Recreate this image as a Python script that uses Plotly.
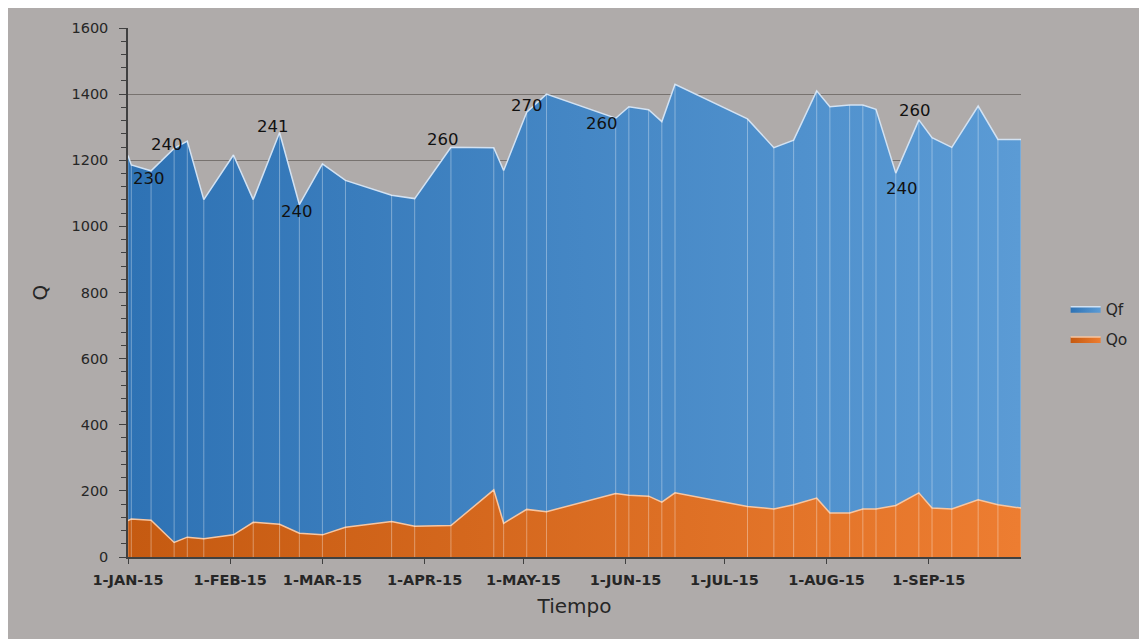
"""
Caudales Qo / Qf (stacked area) Jan-Sep 2015.
Writes out.html.
"""
import numpy as np
import plotly.graph_objects as go

DATES = [
    "2015-01-01", "2015-01-02", "2015-01-08", "2015-01-15", "2015-01-19",
    "2015-01-24", "2015-02-02", "2015-02-08", "2015-02-16", "2015-02-22",
    "2015-03-01", "2015-03-08", "2015-03-22", "2015-03-29", "2015-04-09",
    "2015-04-22", "2015-04-25", "2015-05-02", "2015-05-08", "2015-05-29",
    "2015-06-02", "2015-06-08", "2015-06-12", "2015-06-16", "2015-07-08",
    "2015-07-16", "2015-07-22", "2015-07-29", "2015-08-02", "2015-08-08",
    "2015-08-12", "2015-08-16", "2015-08-22", "2015-08-29", "2015-09-02",
    "2015-09-08", "2015-09-16", "2015-09-22", "2015-09-29",
]
QO = [
    110, 115, 111, 44, 60, 55, 67, 105, 99, 72,
    67, 90, 107, 93, 95, 203, 102, 144, 137, 192,
    187, 184, 166, 194, 153, 145, 158, 178, 133, 133,
    145, 145, 156, 194, 148, 145, 173, 158, 148,
]
QF = [
    1104, 1071, 1057, 1192, 1198, 1026, 1149, 976, 1185, 994,
    1122, 1049, 987, 991, 1144, 1035, 1067, 1201, 1263, 1135,
    1175, 1169, 1151, 1236, 1172, 1093, 1103, 1232, 1229, 1234,
    1222, 1209, 1005, 1128, 1120, 1094, 1191, 1105, 1115,
]

# text labels written on the chart next to some points
LABEL_DATES = ["2015-01-08", "2015-01-15", "2015-02-16", "2015-02-22", "2015-04-09",
               "2015-05-02", "2015-05-29", "2015-08-22", "2015-08-29"]
LABEL_TEXT = ["230", "240", "241", "240", "260", "270", "260", "240", "260"]
# pixel offsets of each label from its point
LABEL_SHIFT = [(-2, -8), (-7, 4), (-7, 6), (-2, -7), (-8, 8),
               (0, 7), (-14, -5), (6, -15), (-4, 9)]

MONTH_TICKS = ["2015-01-01", "2015-02-01", "2015-03-01", "2015-04-01", "2015-05-01",
               "2015-06-01", "2015-07-01", "2015-08-01", "2015-09-01"]
MONTH_LABELS = ["1-JAN-15", "1-FEB-15", "1-MAR-15", "1-APR-15", "1-MAY-15",
                "1-JUN-15", "1-JUL-15", "1-AUG-15", "1-SEP-15"]

BG = "#afabaa"
FONT = "DejaVu Sans, sans-serif"
TXT = "#262626"

total = np.array(QO) + np.array(QF)

fig = go.Figure()

fig.add_trace(go.Scatter(
    x=DATES, y=QO, name="Qo", stackgroup="q", mode="lines",
    legendgroup="qo", legendrank=2,
    line=dict(color="#f6c6a2", width=1.5),
    fillgradient=dict(type="horizontal",
                      colorscale=[[0, "#c55a11"], [1, "#ed7d31"]]),
))
fig.add_trace(go.Scatter(
    x=DATES, y=QF, name="Qf", stackgroup="q", mode="lines",
    legendgroup="qf", legendrank=1,
    line=dict(color="#d2e2f3", width=1.5),
    fillgradient=dict(type="horizontal",
                      colorscale=[[0, "#2e72b4"], [1, "#5b9bd5"]]),
))

# thin light drop lines at every sample
vx, vy = [], []
for d, t in zip(DATES, total):
    vx += [d, d, None]
    vy += [0, t, None]
fig.add_trace(go.Scatter(
    x=vx, y=vy, mode="lines", showlegend=False, hoverinfo="skip",
    line=dict(color="rgba(255,255,255,0.35)", width=1),
))

lookup = dict(zip(DATES, total))
for d, txt, (dx, dy) in zip(LABEL_DATES, LABEL_TEXT, LABEL_SHIFT):
    fig.add_annotation(
        x=d, y=lookup[d], text=txt, showarrow=False,
        xshift=dx, yshift=dy, xanchor="center", yanchor="middle",
        font=dict(size=16.5, color="#111111", family=FONT),
    )

fig.update_xaxes(
    type="date", range=["2015-01-01", "2015-09-29"],
    tickvals=MONTH_TICKS, ticktext=MONTH_LABELS,
    ticks="outside", ticklen=5, tickcolor="#404040",
    showline=True, linecolor="#404040", linewidth=1.5,
    showgrid=False, zeroline=False,
    tickfont=dict(size=14.5, color=TXT, family=FONT, weight="bold"),
    ticklabelstandoff=4,
    title=dict(text="Tiempo", font=dict(size=20, color=TXT, family=FONT), standoff=12),
)
fig.update_yaxes(
    range=[0, 1600], dtick=200,
    ticks="outside", ticklen=7, tickcolor="#404040",
    minor=dict(dtick=40, ticks="outside", ticklen=5, tickcolor="#404040", showgrid=False),
    showline=True, linecolor="#404040", linewidth=1.5,
    showgrid=True, gridcolor="#77726f", gridwidth=1, zeroline=False,
    tickfont=dict(size=14.5, color=TXT, family=FONT),
    ticklabelstandoff=8,
    title=dict(text="Q", font=dict(size=20, color=TXT, family=FONT), standoff=18),
)

# the page adds an 8px white margin, which gives the thin white frame
fig.update_layout(
    width=1139, height=631,
    margin=dict(l=120, r=126, t=18, b=82),
    paper_bgcolor=BG, plot_bgcolor=BG,
    font=dict(family=FONT, color=TXT),
    showlegend=True,
    legend=dict(
        x=1.05, y=0.44, xanchor="left", yanchor="middle",
        traceorder="grouped", bgcolor="rgba(0,0,0,0)",
        font=dict(size=15.5, color=TXT, family=FONT),
        itemwidth=30, tracegroupgap=7,
    ),
    hovermode="x unified",
)

fig.write_html("out.html")
